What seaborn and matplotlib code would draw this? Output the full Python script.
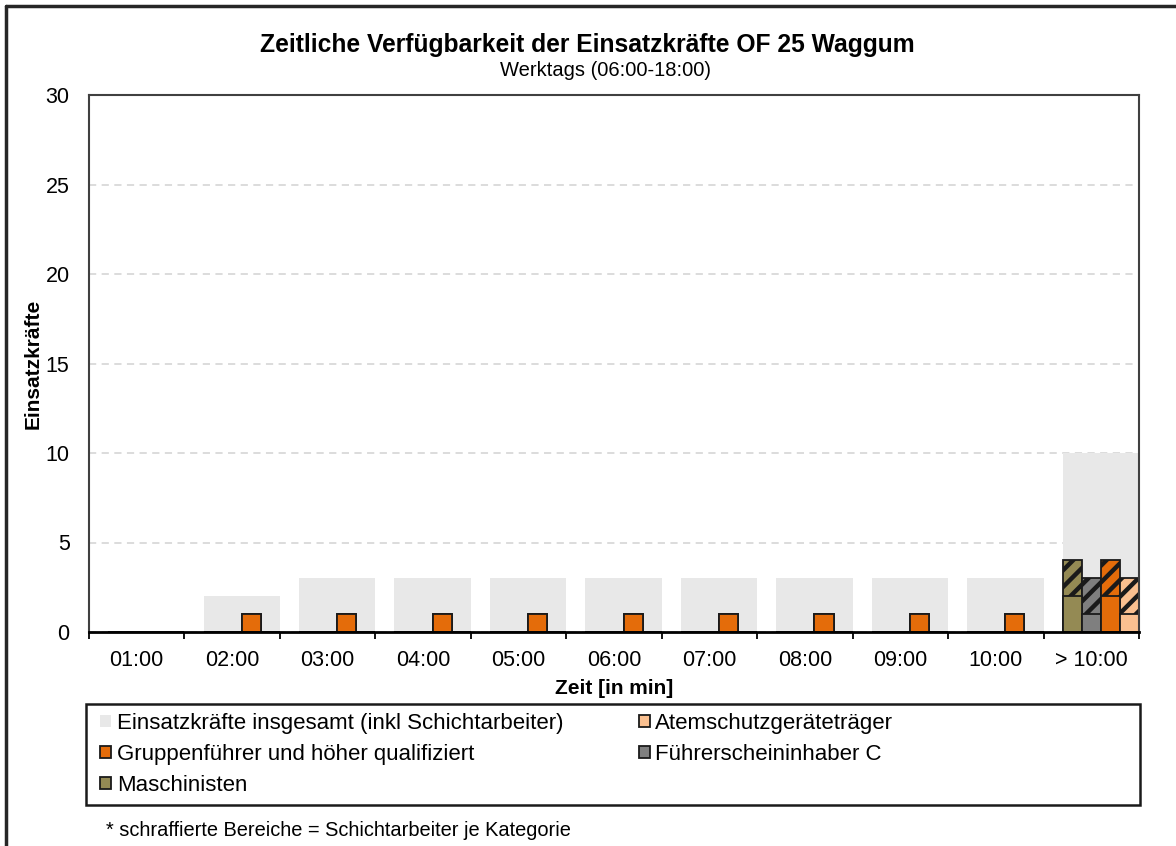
import matplotlib
matplotlib.use("Agg")
import matplotlib.pyplot as plt
from matplotlib.patches import Rectangle, Patch
from matplotlib.lines import Line2D
import numpy as np
import pandas as pd
import seaborn as sns

# --- data -------------------------------------------------------------
zeiten = ["01:00", "02:00", "03:00", "04:00", "05:00", "06:00",
          "07:00", "08:00", "09:00", "10:00", "> 10:00"]

gesamt = [0, 2, 3, 3, 3, 3, 3, 3, 3, 3, 10]

kategorien = ["Maschinisten", "Führerscheininhaber C",
              "Gruppenführer und höher qualifiziert", "Atemschutzgeräteträger"]

# regular members per category
maschinisten = [0, 0, 0, 0, 0, 0, 0, 0, 0, 0, 2]
fuehrerschein_c = [0, 0, 0, 0, 0, 0, 0, 0, 0, 0, 1]
gruppenfuehrer = [0, 1, 1, 1, 1, 1, 1, 1, 1, 1, 2]
atemschutz = [0, 0, 0, 0, 0, 0, 0, 0, 0, 0, 1]

# shift workers per category (hatched part)
maschinisten_schicht = [0, 0, 0, 0, 0, 0, 0, 0, 0, 0, 2]
fuehrerschein_c_schicht = [0, 0, 0, 0, 0, 0, 0, 0, 0, 0, 2]
gruppenfuehrer_schicht = [0, 0, 0, 0, 0, 0, 0, 0, 0, 0, 2]
atemschutz_schicht = [0, 0, 0, 0, 0, 0, 0, 0, 0, 0, 2]

farben = {
    "Maschinisten": "#948A54",
    "Führerscheininhaber C": "#7F7F7F",
    "Gruppenführer und höher qualifiziert": "#E46C0A",
    "Atemschutzgeräteträger": "#FAC090",
}
grau = "#E8E8E8"
kante = "#1A1A1A"

regulaer = [maschinisten, fuehrerschein_c, gruppenfuehrer, atemschutz]
schicht = [maschinisten_schicht, fuehrerschein_c_schicht,
           gruppenfuehrer_schicht, atemschutz_schicht]

rows = []
for kat, reg, sch in zip(kategorien, regulaer, schicht):
    for z, r, s in zip(zeiten, reg, sch):
        rows.append({"Zeit": z, "Kategorie": kat, "Regulär": r, "Gesamt": r + s})
df = pd.DataFrame(rows)

# --- style ------------------------------------------------------------
sns.set_style("white")
plt.rcParams["font.family"] = ["Liberation Sans", "DejaVu Sans"]
plt.rcParams["hatch.linewidth"] = 3.2
plt.rcParams["hatch.color"] = "black"
plt.rcParams["text.color"] = "black"
plt.rcParams["axes.labelcolor"] = "black"
plt.rcParams["xtick.color"] = "black"
plt.rcParams["ytick.color"] = "black"

fig = plt.figure(figsize=(11.76, 8.46), dpi=100)
ax = fig.add_axes([89 / 1176, 1 - 632 / 846, (1139 - 89) / 1176, (632 - 95) / 846])

# total strength (light grey background bar)
sns.barplot(x=zeiten, y=gesamt, order=zeiten, color=grau, width=0.8,
            saturation=1, linewidth=0, ax=ax)

# full height per category incl. shift workers, hatched
sns.barplot(data=df, x="Zeit", y="Gesamt", hue="Kategorie", order=zeiten,
            hue_order=kategorien, palette=farben, width=0.8, dodge=True,
            saturation=1, edgecolor=kante, linewidth=1.3, hatch="//",
            legend=False, ax=ax)

# regular members drawn solid on top
sns.barplot(data=df, x="Zeit", y="Regulär", hue="Kategorie", order=zeiten,
            hue_order=kategorien, palette=farben, width=0.8, dodge=True,
            saturation=1, edgecolor=kante, linewidth=1.3,
            legend=False, ax=ax)

# bars sit in the right part of each category slot
for p in ax.patches:
    p.set_x(p.get_x() + 0.1)

ax.set_xlim(-0.5, len(zeiten) - 0.5)
ax.set_ylim(0, 30)
ax.set_yticks(range(0, 31, 5))
ax.yaxis.grid(True, linestyle=(0, (4, 3)), color="#D9D9D9", linewidth=1.3)
ax.xaxis.grid(False)
ax.set_axisbelow(True)

ax.set_xticks(range(len(zeiten)))
ax.set_xticklabels(zeiten)
ax.set_xticks(np.arange(-0.5, len(zeiten), 1.0), minor=True)
ax.tick_params(axis="x", which="major", length=0, pad=13, labelsize=15.5)
ax.tick_params(axis="x", which="minor", length=5, width=1.3, color="black",
               direction="out", bottom=True)
ax.tick_params(axis="y", length=0, pad=14, labelsize=15.5)

for side in ["left", "top", "right"]:
    ax.spines[side].set_color("#404040")
    ax.spines[side].set_linewidth(1.5)
ax.spines["bottom"].set_color("black")
ax.spines["bottom"].set_linewidth(2.0)

ax.set_xlabel("Zeit [in min]", fontsize=15, fontweight="bold", labelpad=6)
ax.set_ylabel("Einsatzkräfte", fontsize=15, fontweight="bold", labelpad=2)

# titles
fig.text(587 / 1176, 1 - 45 / 846, "Zeitliche Verfügbarkeit der Einsatzkräfte OF 25 Waggum",
         ha="center", va="center", fontsize=17.7, fontweight="bold")
fig.text(606 / 1176, 1 - 71 / 846, "Werktags (06:00-18:00)",
         ha="center", va="center", fontsize=14.5)

# legend
handles = [
    Patch(facecolor=grau, edgecolor="none", label="Einsatzkräfte insgesamt (inkl Schichtarbeiter)"),
    Patch(facecolor=farben["Gruppenführer und höher qualifiziert"], edgecolor=kante,
          linewidth=1.3, label="Gruppenführer und höher qualifiziert"),
    Patch(facecolor=farben["Maschinisten"], edgecolor=kante, linewidth=1.3,
          label="Maschinisten"),
    Patch(facecolor=farben["Atemschutzgeräteträger"], edgecolor=kante, linewidth=1.3,
          label="Atemschutzgeräteträger"),
    Patch(facecolor=farben["Führerscheininhaber C"], edgecolor=kante, linewidth=1.3,
          label="Führerscheininhaber C"),
]
fig.legend(handles=handles, loc="upper left", ncol=2,
           bbox_to_anchor=(100 / 1176, 1 - 713 / 846), frameon=False,
           fontsize=16.0, handlelength=0.5, handleheight=0.5,
           handletextpad=0.25, labelspacing=0.45, columnspacing=3.4,
           borderaxespad=0, borderpad=0.0)

fig.add_artist(Rectangle((86 / 1176, 1 - 805 / 846), (1140 - 86) / 1176,
                         (805 - 704) / 846, transform=fig.transFigure,
                         fill=False, edgecolor="#1A1A1A", linewidth=1.8))

fig.text(106 / 1176, 1 - 830 / 846,
         "* schraffierte Bereiche = Schichtarbeiter je Kategorie",
         ha="left", va="center", fontsize=14.4)

# outer chart border (top and left edge)
fig.add_artist(Line2D([6 / 1176, 1.0], [1 - 6 / 846, 1 - 6 / 846],
                      transform=fig.transFigure, color="#262626", linewidth=2.5))
fig.add_artist(Line2D([6 / 1176, 6 / 1176], [0.0, 1 - 6 / 846],
                      transform=fig.transFigure, color="#262626", linewidth=2.5))

fig.savefig("out.png", dpi=100)
